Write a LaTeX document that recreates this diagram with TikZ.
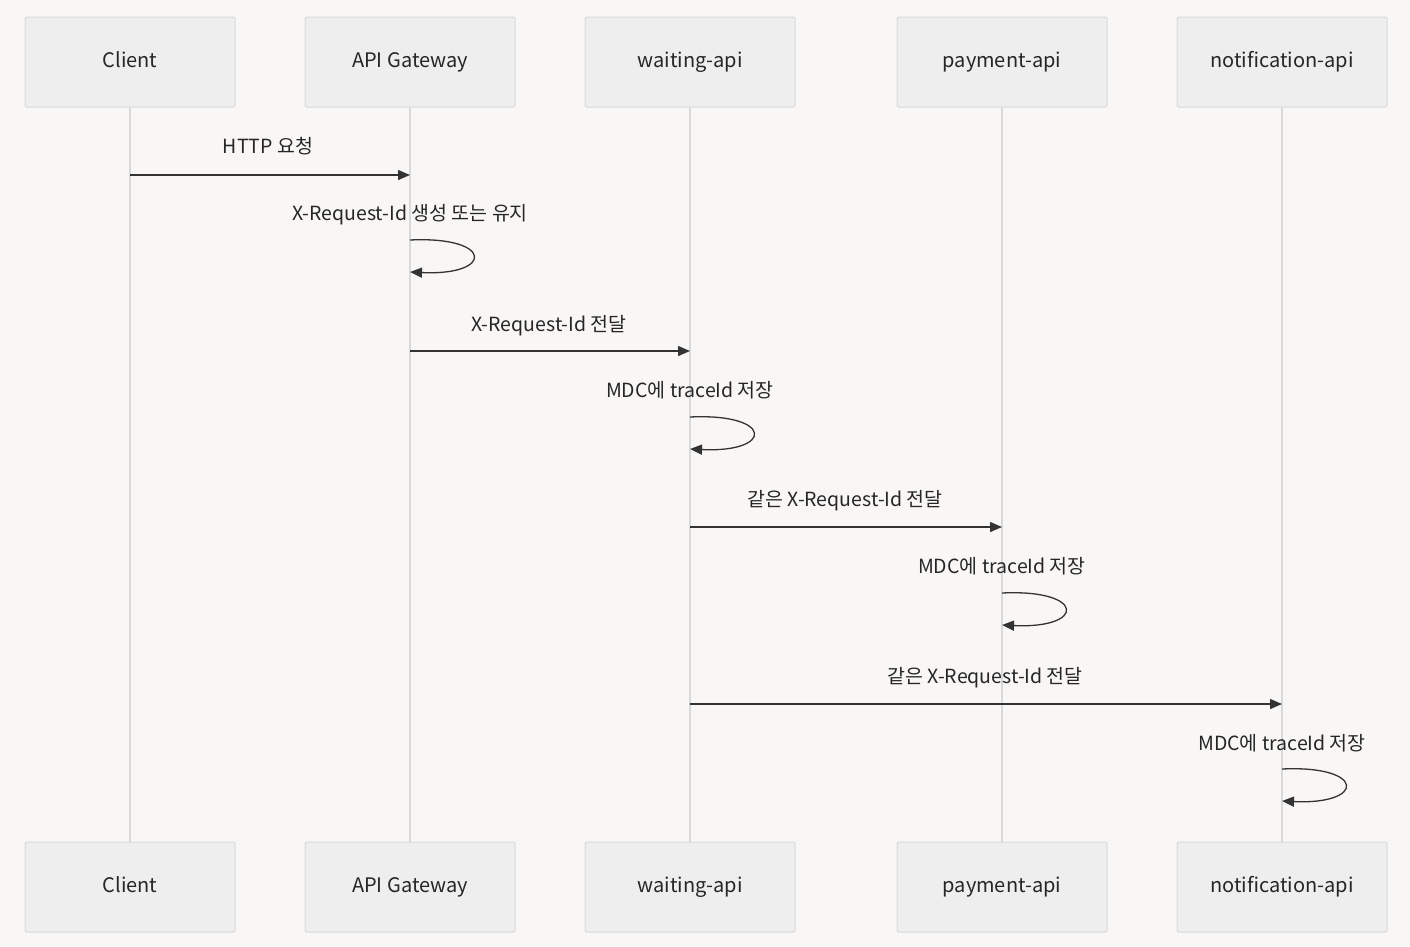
\documentclass[tikz,border=0pt]{standalone}
\usepackage{fontspec}
\setmainfont{Noto Sans CJK KR}
\usetikzlibrary{arrows.meta}
\definecolor{bg}{HTML}{F8F7F5}
\definecolor{boxf}{HTML}{EEEEEE}
\definecolor{boxd}{HTML}{D9D9D9}
\definecolor{ln}{HTML}{333333}
\begin{document}
\begin{tikzpicture}[x=1pt,y=-1pt,
 actor/.style={draw=boxd,fill=boxf,line width=1pt,rounded corners=2pt,minimum width=210pt,minimum height=90pt,inner sep=0pt,text height=14pt,text depth=4pt,font=\fontsize{20}{22}\selectfont,text=black!85},
 life/.style={draw=boxd,line width=2pt},
 msg/.style={draw=ln,line width=1.3pt,-{Triangle[length=12pt,width=10pt]}},
 lbl/.style={font=\fontsize{19.5}{22}\selectfont,text=black!85,inner sep=0pt,text height=14pt,text depth=4pt}]
\fill[bg] (0,0) rectangle (1410,946);
\useasboundingbox (0,0) rectangle (1410,946);
\foreach \n/\x/\t in {c/130/Client,g/410/API Gateway,w/690/waiting-api,p/1002/payment-api,n/1282/notification-api}{
  \draw[life] (\x,107) -- (\x,842);
  \node[actor] (\n t) at (\x,62) {\t};
  \node[actor] (\n b) at (\x,887) {\t};
}
\coordinate (a1) at (130,175); \coordinate (a2) at (410,175);
\draw[msg] (a1) -- (a2);
\node[lbl] (l1) at (268,148) {HTTP 요청};
\node[lbl] (l2) at (410,215) {X-Request-Id 생성 또는 유지};
\coordinate (s1a) at (410,240); \coordinate (s1b) at (410,272);
\draw[msg] (s1a) .. controls (494,236) and (494,276) .. (s1b);
\coordinate (b1) at (410,351); \coordinate (b2) at (690,351);
\draw[msg] (b1) -- (b2);
\node[lbl] (l3) at (549,326) {X-Request-Id 전달};
\node[lbl] (l4) at (690,392) {MDC에 traceId 저장};
\coordinate (s2a) at (690,417); \coordinate (s2b) at (690,449);
\draw[msg] (s2a) .. controls (774,413) and (774,453) .. (s2b);
\coordinate (c1) at (690,527); \coordinate (c2) at (1002,527);
\draw[msg] (c1) -- (c2);
\node[lbl] (l5) at (845,501) {같은 X-Request-Id 전달};
\node[lbl] (l6) at (1002,568) {MDC에 traceId 저장};
\coordinate (s3a) at (1002,593); \coordinate (s3b) at (1002,625);
\draw[msg] (s3a) .. controls (1086,589) and (1086,629) .. (s3b);
\coordinate (d1) at (690,704); \coordinate (d2) at (1282,704);
\draw[msg] (d1) -- (d2);
\node[lbl] (l7) at (985,678) {같은 X-Request-Id 전달};
\node[lbl] (l8) at (1282,745) {MDC에 traceId 저장};
\coordinate (s4a) at (1282,769); \coordinate (s4b) at (1282,801);
\draw[msg] (s4a) .. controls (1366,765) and (1366,805) .. (s4b);
\end{tikzpicture}
\end{document}
